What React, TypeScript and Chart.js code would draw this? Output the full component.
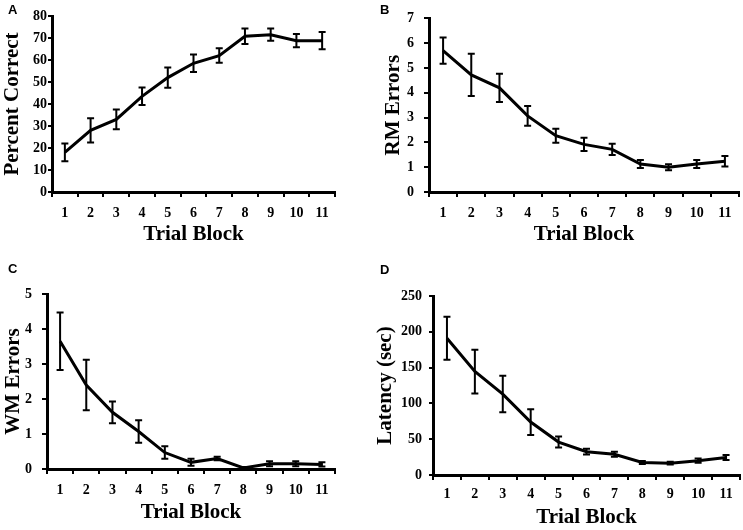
import { useEffect, useRef } from 'react';
import { Chart, registerables } from 'chart.js';

Chart.register(...registerables);

const trialBlocks = ['1', '2', '3', '4', '5', '6', '7', '8', '9', '10', '11'];

const percentCorrect = [18, 28, 33, 43.5, 52, 58.5, 62, 70.8, 71.5, 68.8, 68.8];
const percentCorrectErr = [4, 5.5, 4.5, 4, 4.6, 4, 3.3, 3.5, 2.8, 3, 3.9];

const rmErrors = [5.7, 4.72, 4.2, 3.07, 2.27, 1.92, 1.72, 1.13, 1.0, 1.13, 1.24];
const rmErrorsErr = [0.53, 0.85, 0.57, 0.4, 0.28, 0.27, 0.23, 0.16, 0.12, 0.16, 0.21];

const wmErrors = [3.65, 2.4, 1.62, 1.07, 0.47, 0.19, 0.3, 0.03, 0.15, 0.15, 0.13];
const wmErrorsErr = [0.82, 0.72, 0.31, 0.32, 0.18, 0.1, 0.05, 0.03, 0.07, 0.07, 0.06];

const latency = [191, 144.5, 113, 74, 46, 32.5, 29, 17.5, 16.5, 20, 24.5];
const latencyErr = [30, 30.5, 25.5, 18, 7.7, 4, 3.5, 2, 2, 3, 3.5];

const SERIF = '"Liberation Serif", "Times New Roman", serif';

// draws the SEM whiskers on top of the line
const errorBarsPlugin = {
  id: 'errorBars',
  afterDatasetsDraw(chart: any, _args: any, opts: any) {
    const errors: number[] = opts.errors;
    if (!errors) return;
    const { ctx } = chart;
    const yScale = chart.scales.y;
    const values = chart.data.datasets[0].data as number[];
    const meta = chart.getDatasetMeta(0);
    const cap = 3.5;
    ctx.save();
    ctx.strokeStyle = '#000';
    ctx.lineWidth = 2;
    meta.data.forEach((pt: any, i: number) => {
      const x = pt.x;
      const top = yScale.getPixelForValue(values[i] + errors[i]);
      const bot = yScale.getPixelForValue(Math.max(0, values[i] - errors[i]));
      ctx.beginPath();
      ctx.moveTo(x, top);
      ctx.lineTo(x, bot);
      ctx.moveTo(x - cap, top);
      ctx.lineTo(x + cap, top);
      ctx.moveTo(x - cap, bot);
      ctx.lineTo(x + cap, bot);
      ctx.stroke();
    });
    ctx.restore();
  },
};

interface PanelProps {
  letter: string;
  left: number;
  top: number;
  width: number;
  height: number;
  values: number[];
  errors: number[];
  yMax: number;
  yStep: number;
  yTitle: string;
  pad: { top: number; right: number; bottom: number };
  yWidth: number;
  xHeight: number;
  yTickLen: number;
  yTickPad: number;
  yTitlePad: number;
  xTickPad: number;
  xTitlePad: number;
  letterTop: number;
}

function Panel(p: PanelProps) {
  const canvasRef = useRef<HTMLCanvasElement>(null);

  useEffect(() => {
    if (!canvasRef.current) return;
    const chart = new Chart(canvasRef.current, {
      type: 'line',
      data: {
        labels: trialBlocks,
        datasets: [
          {
            data: p.values,
            borderColor: '#000',
            borderWidth: 3,
            pointRadius: 0,
            tension: 0,
            fill: false,
          },
        ],
      },
      options: {
        responsive: false,
        animation: false,
        events: [],
        layout: { padding: { left: 0, top: p.pad.top, right: p.pad.right, bottom: p.pad.bottom } },
        plugins: {
          legend: { display: false },
          tooltip: { enabled: false },
          errorBars: { errors: p.errors },
        } as any,
        scales: {
          x: {
            type: 'category',
            offset: true,
            grid: {
              offset: true,
              drawOnChartArea: false,
              drawTicks: true,
              tickLength: 5,
              color: '#000',
              lineWidth: 2,
            },
            border: { display: true, color: '#000', width: 3 },
            ticks: {
              color: '#000',
              padding: p.xTickPad,
              maxRotation: 0,
              autoSkip: false,
              font: { family: SERIF, size: 14, weight: 'bold' },
            },
            title: {
              display: true,
              text: 'Trial Block',
              color: '#000',
              padding: { top: 0, bottom: p.xTitlePad },
              font: { family: SERIF, size: 21, weight: 'bold' },
            },
            afterFit: (scale: any) => {
              scale.height = p.xHeight;
            },
          },
          y: {
            min: 0,
            max: p.yMax,
            grid: {
              drawOnChartArea: false,
              drawTicks: true,
              tickLength: p.yTickLen,
              color: '#000',
              lineWidth: 2,
            },
            border: { display: true, color: '#000', width: 3 },
            ticks: {
              stepSize: p.yStep,
              color: '#000',
              padding: p.yTickPad,
              font: { family: SERIF, size: 14, weight: 'bold' },
            },
            title: {
              display: true,
              text: p.yTitle,
              color: '#000',
              padding: { top: p.yTitlePad, bottom: 0 },
              font: { family: SERIF, size: 21, weight: 'bold' },
            },
            afterFit: (scale: any) => {
              scale.width = p.yWidth;
            },
          },
        },
      },
      plugins: [errorBarsPlugin],
    });
    return () => chart.destroy();
  }, []);

  return (
    <div style={{ position: 'absolute', left: p.left, top: p.top, width: p.width, height: p.height }}>
      <canvas ref={canvasRef} width={p.width} height={p.height} style={{ width: p.width, height: p.height }} />
      <div
        style={{
          position: 'absolute',
          left: 8,
          top: p.letterTop,
          fontFamily: '"Liberation Sans", Arial, sans-serif',
          fontWeight: 'bold',
          fontSize: 13,
          lineHeight: '13px',
        }}
      >
        {p.letter}
      </div>
    </div>
  );
}

export default function App() {
  return (
    <div
      style={{
        position: 'absolute',
        left: 0,
        top: 0,
        width: 743,
        height: 530,
        background: '#fff',
        overflow: 'hidden',
      }}
    >
      <Panel
        letter="A"
        left={0}
        top={0}
        width={372}
        height={250}
        values={percentCorrect}
        errors={percentCorrectErr}
        yMax={80}
        yStep={10}
        yTitle="Percent Correct"
        pad={{ top: 16, right: 37, bottom: 0 }}
        yWidth={52}
        xHeight={58}
        yTickLen={4}
        yTickPad={1}
        yTitlePad={0}
        xTickPad={8}
        xTitlePad={3}
        letterTop={3}
      />
      <Panel
        letter="B"
        left={372}
        top={0}
        width={371}
        height={250}
        values={rmErrors}
        errors={rmErrorsErr}
        yMax={7}
        yStep={1}
        yTitle="RM Errors"
        pad={{ top: 16, right: 4, bottom: 0 }}
        yWidth={57}
        xHeight={58}
        yTickLen={5}
        yTickPad={10}
        yTitlePad={9}
        xTickPad={8}
        xTitlePad={3}
        letterTop={3}
      />
      <Panel
        letter="C"
        left={0}
        top={260}
        width={372}
        height={270}
        values={wmErrors}
        errors={wmErrorsErr}
        yMax={5}
        yStep={1}
        yTitle="WM Errors"
        pad={{ top: 34, right: 37, bottom: 3 }}
        yWidth={47}
        xHeight={58}
        yTickLen={5}
        yTickPad={10}
        yTitlePad={1}
        xTickPad={8}
        xTitlePad={2}
        letterTop={2}
      />
      <Panel
        letter="D"
        left={372}
        top={260}
        width={371}
        height={270}
        values={latency}
        errors={latencyErr}
        yMax={250}
        yStep={50}
        yTitle="Latency (sec)"
        pad={{ top: 36, right: 3, bottom: 0 }}
        yWidth={61}
        xHeight={55}
        yTickLen={4}
        yTickPad={7}
        yTitlePad={1}
        xTickPad={6}
        xTitlePad={0}
        letterTop={3}
      />
    </div>
  );
}
